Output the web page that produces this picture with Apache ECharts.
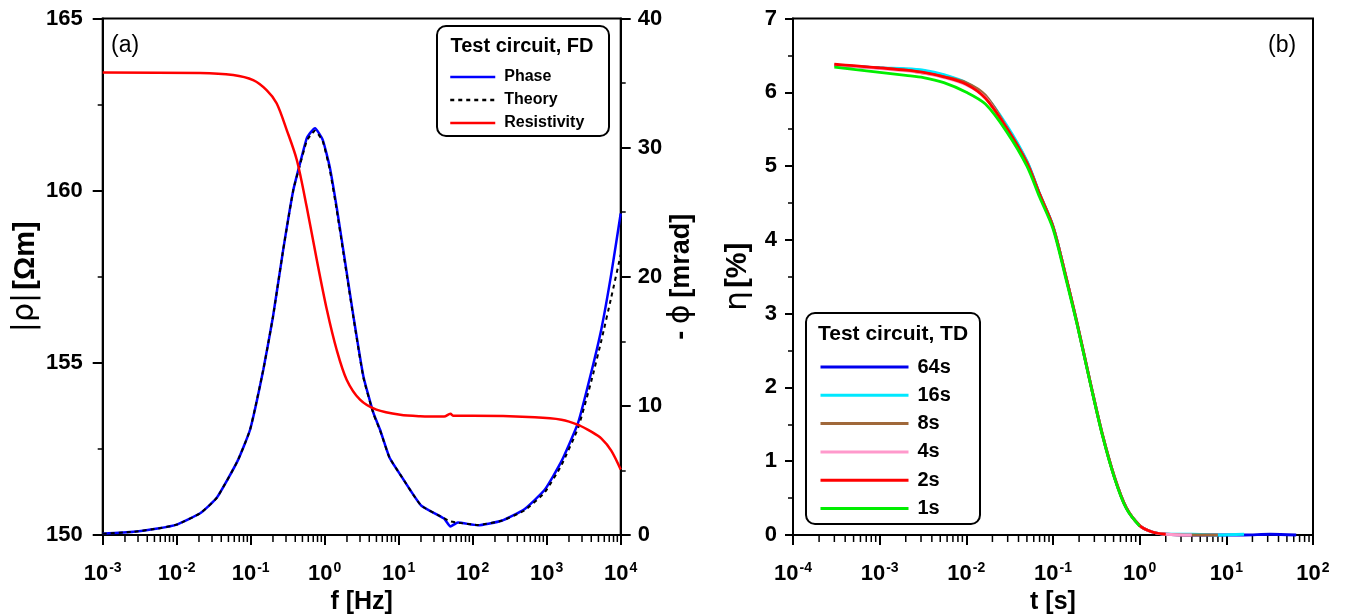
<!DOCTYPE html>
<html>
<head>
<meta charset="utf-8" />
<title>Test circuit FD / TD</title>
<script src="https://cdn.jsdelivr.net/npm/echarts@6/dist/echarts.min.js"></script>
<style>
  html, body { margin: 0; padding: 0; background: #fff; }
  #main { width: 1347px; height: 614px; }
</style>
</head>
<body>
<div id="main"></div>
<script type="text/javascript">
    // (a) frequency domain
    var freq = [0.001, 0.0026, 0.0055, 0.01, 0.021, 0.035, 0.066, 0.098, 0.148, 0.2, 0.275, 0.376, 0.46, 0.57, 0.65, 0.74,
        0.94, 1.17, 1.45, 1.78, 2.45, 3.33, 4.55, 5.6, 7.5, 10.7, 20, 41, 50, 63, 117, 245, 500, 940, 1580, 2660, 4000, 5500, 7450, 10000];
    var phase = [0.1, 0.25, 0.5, 0.8, 1.7, 2.9, 5.7, 8.15, 12.8, 16.9, 22.1, 26.7, 28.7, 30.7, 31.2, 31.5,
        30.6, 28.5, 25.4, 22.1, 16.9, 12.3, 9.45, 8.15, 6.0, 4.6, 2.3, 1.27, 0.66, 0.97, 0.75, 1.1, 2.0, 3.5, 5.7, 8.7, 12.6, 16.0, 20.2, 24.9];
    var theory = [0.1, 0.25, 0.5, 0.8, 1.7, 2.9, 5.7, 8.15, 12.8, 16.9, 22.1, 26.7, 28.6, 30.5, 31.0, 31.3,
        30.5, 28.3, 25.2, 21.9, 16.8, 12.2, 9.4, 8.1, 6.0, 4.6, 2.3, 1.3, 1.05, 0.95, 0.78, 1.1, 1.9, 3.3, 5.4, 8.3, 11.9, 15.1, 18.4, 21.7];
    var freqRho = [0.001, 0.0207, 0.058, 0.108, 0.164, 0.224, 0.307, 0.42, 0.57, 0.78, 1.07, 1.45, 1.98, 3.0, 5.0,
        10.5, 19.5, 41, 50, 55, 100, 690, 1580, 2660, 4000, 5500, 7450, 10000];
    var rho = [163.43, 163.42, 163.36, 163.21, 162.92, 162.54, 161.76, 160.89, 159.54, 158.0, 156.54, 155.38, 154.51, 153.93, 153.64,
        153.49, 153.45, 153.44, 153.52, 153.46, 153.46, 153.42, 153.35, 153.2, 153.0, 152.8, 152.45, 151.9];

    // (b) time domain, one array per window length
    var time = [3e-4, 5e-4, 1e-3, 2e-3, 3.2e-3, 5.5e-3, 0.01, 0.0166, 0.029, 0.05, 0.07, 0.1, 0.137, 0.19, 0.27,
        0.37, 0.51, 0.7, 1.0, 1.4, 2, 4, 8, 16, 32, 64];
    var eta64 = [6.36, 6.35, 6.33, 6.31, 6.29, 6.23, 6.12, 5.94, 5.54, 5.06, 4.62, 4.18, 3.56, 2.86, 2.06,
        1.37, 0.79, 0.37, 0.13, 0.04, 0.01, 0.0, 0.0, 0.0, 0.01, 0.0];
    var eta16 = [6.36, 6.35, 6.33, 6.32, 6.30, 6.24, 6.13, 5.95, 5.56, 5.07, 4.63, 4.19, 3.56, 2.87, 2.06,
        1.37, 0.79, 0.37, 0.13, 0.04, 0.01, 0.01, 0.0, 0.01];
    var eta8 = [6.37, 6.35, 6.33, 6.30, 6.26, 6.21, 6.13, 5.96, 5.53, 5.05, 4.62, 4.18, 3.56, 2.86, 2.06,
        1.37, 0.79, 0.37, 0.13, 0.04, 0.01, 0.0, 0.0];
    var eta4 = [6.37, 6.35, 6.32, 6.29, 6.26, 6.20, 6.10, 5.93, 5.51, 5.03, 4.61, 4.17, 3.55, 2.86, 2.06,
        1.37, 0.79, 0.37, 0.13, 0.04, 0.01, 0.0];
    var eta2 = [6.38, 6.36, 6.33, 6.30, 6.27, 6.21, 6.11, 5.92, 5.52, 5.04, 4.62, 4.18, 3.56, 2.87, 2.06,
        1.37, 0.79, 0.37, 0.13, 0.04, 0.01];
    var eta1 = [6.34, 6.31, 6.27, 6.23, 6.20, 6.13, 6.0, 5.84, 5.47, 5.0, 4.58, 4.15, 3.53, 2.85, 2.05,
        1.36, 0.78, 0.36, 0.12];

    var tdNames = ['64s', '16s', '8s', '4s', '2s', '1s'];
    var tdColors = ['#0000ee', '#00e8ff', '#a0683a', '#ff99cc', '#ff0000', '#00ee00'];
    var tdData = [eta64, eta16, eta8, eta4, eta2, eta1];

    function pairs(xs, ys) {
        var out = [];
        for (var i = 0; i < ys.length; i++) out.push([xs[i], ys[i]]);
        return out;
    }

    // log minor ticks 2..9 per decade
    function minorTicks(lo, hi) {
        var out = [];
        for (var e = lo; e < hi; e++) {
            for (var m = 2; m <= 9; m++) out.push([m * Math.pow(10, e)]);
        }
        return out;
    }

    var FONT = 'Liberation Sans, Arial, sans-serif';

    function powLabel(v) {
        var e = Math.round(Math.log(v) / Math.LN10);
        return '{b|10}{s|' + e + '}';
    }
    var powRich = {
        b: { fontSize: 22, fontWeight: 'bold', fontFamily: FONT, color: '#000', lineHeight: 25 },
        s: { fontSize: 14, fontWeight: 'bold', fontFamily: FONT, color: '#000', verticalAlign: 'top', lineHeight: 25, padding: [0, 0, 0, 1] }
    };

    function tickRender(yBase) {
        return function (params, api) {
            var p = api.coord([api.value(0), yBase]);
            return {
                type: 'line',
                shape: { x1: p[0], y1: p[1], x2: p[0], y2: p[1] + 7 },
                style: { stroke: '#000', lineWidth: 1.5 }
            };
        };
    }

    var axisLine = { show: true, lineStyle: { color: '#000', width: 2 } };
    var axisTick = { show: true, length: 10, lineStyle: { color: '#000', width: 2 } };
    var minorTick = { show: true, splitNumber: 2, length: 5, lineStyle: { color: '#000', width: 1.5 } };
    function numLabel(m) {
        return { fontSize: 22, fontWeight: 'bold', fontFamily: FONT, color: '#000', margin: m };
    }
    function nameRich(nSize, bSize) {
        return {
            rich: {
                n: { fontSize: nSize, fontFamily: 'DejaVu Sans, sans-serif', color: '#000' },
                b: { fontSize: bSize, fontWeight: 'bold', fontFamily: FONT, color: '#000' }
            }
        };
    }

    var series = [
        {
            name: 'Phase', type: 'line', xAxisIndex: 0, yAxisIndex: 1,
            data: pairs(freq, phase), showSymbol: false, symbol: 'none', smooth: 0.15,
            lineStyle: { color: '#0000ff', width: 2.5 }, itemStyle: { color: '#0000ff' }, z: 3
        },
        {
            name: 'Theory', type: 'line', xAxisIndex: 0, yAxisIndex: 1,
            data: pairs(freq, theory), showSymbol: false, symbol: 'none', smooth: 0.15,
            lineStyle: { color: '#000', width: 2, type: [4, 4] }, itemStyle: { color: '#000' }, z: 4
        },
        {
            name: 'Resistivity', type: 'line', xAxisIndex: 0, yAxisIndex: 0,
            data: pairs(freqRho, rho), showSymbol: false, symbol: 'none', smooth: 0.3,
            lineStyle: { color: '#ff0000', width: 2.5 }, itemStyle: { color: '#ff0000' }, z: 5
        },
        {
            type: 'custom', xAxisIndex: 0, yAxisIndex: 0, silent: true,
            data: minorTicks(-3, 4), renderItem: tickRender(150), clip: false
        },
        {
            type: 'custom', xAxisIndex: 1, yAxisIndex: 2, silent: true,
            data: minorTicks(-4, 2), renderItem: tickRender(0), clip: false
        }
    ];
    for (var k = 0; k < tdNames.length; k++) {
        series.push({
            name: tdNames[k], type: 'line', xAxisIndex: 1, yAxisIndex: 2,
            data: pairs(time, tdData[k]), showSymbol: false, symbol: 'none', smooth: 0.3, clip: false,
            lineStyle: { color: tdColors[k], width: 2.8 }, itemStyle: { color: tdColors[k] }, z: 3 + k
        });
    }

    var myChart = echarts.init(document.getElementById('main'));
    var option = {
        animation: false,
        textStyle: { fontFamily: FONT },
        grid: [
            { left: 102.7, top: 18.5, width: 518, height: 516.5, outerBoundsMode: 'none', containLabel: false,
              show: true, borderColor: '#000', borderWidth: 2, backgroundColor: 'transparent' },
            { left: 793, top: 18.5, width: 520, height: 516.5, outerBoundsMode: 'none', containLabel: false,
              show: true, borderColor: '#000', borderWidth: 2, backgroundColor: 'transparent' }
        ],
        xAxis: [
            {
                gridIndex: 0, type: 'log', logBase: 10, min: 0.001, max: 10000,
                name: 'f [Hz]', nameLocation: 'middle', nameGap: 49,
                nameTextStyle: { fontSize: 25, fontWeight: 'bold', color: '#000', fontFamily: FONT },
                axisLine: axisLine, axisTick: axisTick, splitLine: { show: false },
                axisLabel: { formatter: powLabel, rich: powRich, margin: 26 }
            },
            {
                gridIndex: 1, type: 'log', logBase: 10, min: 0.0001, max: 100,
                name: 't [s]', nameLocation: 'middle', nameGap: 49,
                nameTextStyle: { fontSize: 25, fontWeight: 'bold', color: '#000', fontFamily: FONT },
                axisLine: axisLine, axisTick: axisTick, splitLine: { show: false },
                axisLabel: { formatter: powLabel, rich: powRich, margin: 26 }
            }
        ],
        yAxis: [
            {
                gridIndex: 0, type: 'value', min: 150, max: 165, interval: 5, position: 'left',
                name: '{n||ρ|} {b|[Ωm]}', nameLocation: 'middle', nameGap: 62, nameRotate: 90,
                nameTextStyle: nameRich(30, 29),
                axisLine: axisLine, axisTick: axisTick, minorTick: minorTick, splitLine: { show: false },
                axisLabel: numLabel(20)
            },
            {
                gridIndex: 0, type: 'value', min: 0, max: 40, interval: 10, position: 'right',
                name: '{b|-}  {n|ϕ}  {b|[mrad]}', nameLocation: 'middle', nameGap: 25, nameRotate: 90,
                nameTextStyle: nameRich(30, 27),
                axisLine: axisLine, axisTick: axisTick, minorTick: minorTick, splitLine: { show: false },
                axisLabel: numLabel(17)
            },
            {
                gridIndex: 1, type: 'value', min: 0, max: 7, interval: 1, position: 'left',
                name: '{n|η} {b|[%]}', nameLocation: 'middle', nameGap: 40, nameRotate: 90,
                nameTextStyle: nameRich(31, 29),
                axisLine: axisLine, axisTick: { show: true, length: 8, lineStyle: { color: '#000', width: 2 } },
                minorTick: minorTick, splitLine: { show: false },
                axisLabel: numLabel(16)
            }
        ],
        legend: [
            {
                data: ['Phase', 'Theory', 'Resistivity'], orient: 'vertical', left: 444, top: 64,
                itemWidth: 45, itemHeight: 16, itemGap: 7, selectedMode: false,
                itemStyle: { opacity: 0 }, lineStyle: { width: 2.5 },
                textStyle: { fontSize: 16, fontWeight: 'bold', color: '#000', fontFamily: FONT, padding: [0, 0, 0, 4] }
            },
            {
                data: tdNames, orient: 'vertical', left: 814, top: 352,
                itemWidth: 88, itemHeight: 20, itemGap: 8.3, selectedMode: false,
                itemStyle: { opacity: 0 }, lineStyle: { width: 3 },
                textStyle: { fontSize: 20, fontWeight: 'bold', color: '#000', fontFamily: FONT, padding: [0, 0, 0, 4] }
            }
        ],
        graphic: [
            { type: 'rect', shape: { x: 437, y: 26, width: 172, height: 110, r: 9 }, style: { fill: '#fff', stroke: '#000', lineWidth: 2 }, z: 1 },
            { type: 'text', x: 522, y: 46, style: { text: 'Test circuit, FD', font: 'bold 20px ' + FONT, fill: '#000', textAlign: 'center', textVerticalAlign: 'middle' }, z: 2 },
            { type: 'rect', shape: { x: 806, y: 313, width: 174, height: 211, r: 9 }, style: { fill: '#fff', stroke: '#000', lineWidth: 2 }, z: 1 },
            { type: 'text', x: 893, y: 334, style: { text: 'Test circuit, TD', font: 'bold 21px ' + FONT, fill: '#000', textAlign: 'center', textVerticalAlign: 'middle' }, z: 2 },
            { type: 'text', x: 111, y: 46, style: { text: '(a)', font: '23px ' + FONT, fill: '#000', textVerticalAlign: 'middle' }, z: 2 },
            { type: 'text', x: 1268, y: 46, style: { text: '(b)', font: '23px ' + FONT, fill: '#000', textVerticalAlign: 'middle' }, z: 2 }
        ],
        series: series
    };
    myChart.setOption(option);
</script>
</body>
</html>
